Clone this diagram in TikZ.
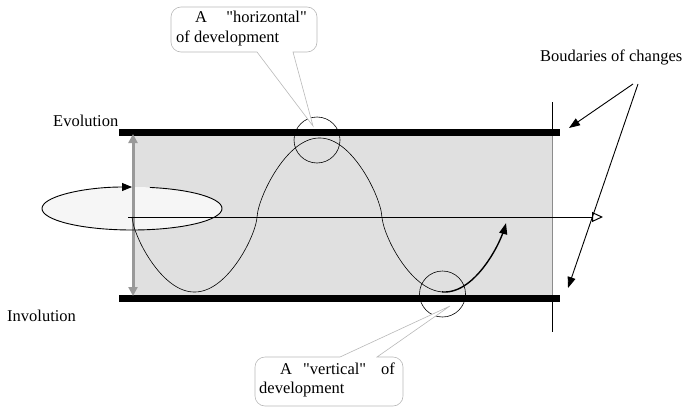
\documentclass[tikz,border=0pt]{standalone}
\usepackage{fontspec}
\setmainfont{Liberation Serif}[Ligatures=TeXOff]
\usetikzlibrary{arrows.meta,calc}
\begin{document}
\begin{tikzpicture}[x=1pt,y=1pt,
  lbl/.style={inner sep=0pt, font=\fontsize{16.5}{19}\selectfont},
  bar/.style={line width=7pt},
  callout/.style={draw=gray!55, fill=white, line width=0.6pt},
  blk/.style={-{Triangle[length=11pt,width=8pt]}, line width=0.9pt},
  spot/.style={draw, line width=0.6pt},
  declare function={sg(\t)=sin(1.44*(\t-132));
                    wg(\t)=sg(\t)*pow(abs(sg(\t))+0.0001,-0.32);
                    wv(\t)=191+2*abs(wg(\t))-77*wg(\t);}
]
\useasboundingbox (0,0) rectangle (687,408);
% coordinates
\coordinate (vtop) at (552,306);
\coordinate (vbot) at (552,76);
\coordinate (tbL) at (119,276);
\coordinate (tbR) at (560,276);
\coordinate (bbL) at (119,110);
\coordinate (bbR) at (560,110);
\coordinate (gaT) at (133,274);
\coordinate (gaB) at (133,112);
\coordinate (axL) at (128,191);
\coordinate (axR) at (603,191);
\coordinate (ellC) at (132,199.5);
% vertical boundary line
\draw[line width=1pt] (vtop) -- (vbot);
% gray band
\fill[gray!24] (133,110) rectangle (552,276);
\draw[gray!90, line width=1pt] (552,110) -- (552,276);
% bars
\draw[bar] (tbL) -- (tbR);
\draw[bar] (bbL) -- (bbR);
% ellipse fill
\fill[gray!7] (ellC) ellipse [x radius=90, y radius=21.5];
% gray double arrow
\draw[gray!80, line width=3pt, {Triangle[length=9pt,width=9pt]}-{Triangle[length=9pt,width=9pt]}] (gaB) -- (gaT);
% ellipse outline with arrow
\draw[line width=0.9pt, -{Triangle[length=10pt,width=8pt]}] ($(ellC)+(78.5:90 and 21.5)$) arc[start angle=78.5, end angle=-270, x radius=90, y radius=21.5];
% axis
\draw[line width=1pt, -{Triangle[open,length=11pt,width=10pt,fill=white]}] (axL) -- (axR);
% wave
\draw[line width=0.6pt, domain=132:442, samples=240, smooth] plot (\x, {wv(\x)});
\draw[line width=1.4pt, domain=442:506, samples=60, smooth, -{Triangle[length=11pt,width=8pt]}] plot (\x, {wv(\x)});
% spots
\node[spot, circle, minimum size=46pt, inner sep=0pt] (topspot) at (317,268) {};
\node[spot, circle, minimum size=46pt, inner sep=0pt] (botspot) at (442.5,114) {};
% callout 1
\coordinate (c1tip) at (313,282);
\draw[callout] (257,356) -- (c1tip) -- (293,356) [rounded corners=10pt] -- (317,356) -- (317,401) -- (171,401) -- (171,356) -- (257,356);
\node[lbl, anchor=base west] (h1) at (195,385) {A};
\node[lbl, anchor=base east] (h2) at (307,385) {"horizontal"};
\node[lbl, anchor=base west] (h3) at (176,365) {of development};
% callout 2
\coordinate (c2tip) at (450,102);
\draw[callout] (340,51) -- (c2tip) -- (377,51) [rounded corners=10pt] -- (403,51) -- (403,2) -- (255,2) -- (255,51) -- (340,51);
\node[lbl, anchor=base west] (v1) at (280,34) {A};
\node[lbl, anchor=base west] (v2) at (303,34) {"vertical"};
\node[lbl, anchor=base east] (v3) at (395,34) {of};
\node[lbl, anchor=base west] (v4) at (259,15) {development};
% labels
\node[lbl, anchor=base west] (evo) at (53,282) {Evolution};
\node[lbl, anchor=base west] (inv) at (7,87) {Involution};
\node[lbl, anchor=base west] (bnd) at (540,347) {Boudaries of changes};
% arrows from boundary label
\coordinate (bA) at (633,324);
\coordinate (bB) at (638,324);
\coordinate (bT) at (569,280);
\coordinate (bD) at (568,120);
\draw[blk] (bA) -- (bT);
\draw[blk] (bB) -- (bD);
\end{tikzpicture}
\end{document}
